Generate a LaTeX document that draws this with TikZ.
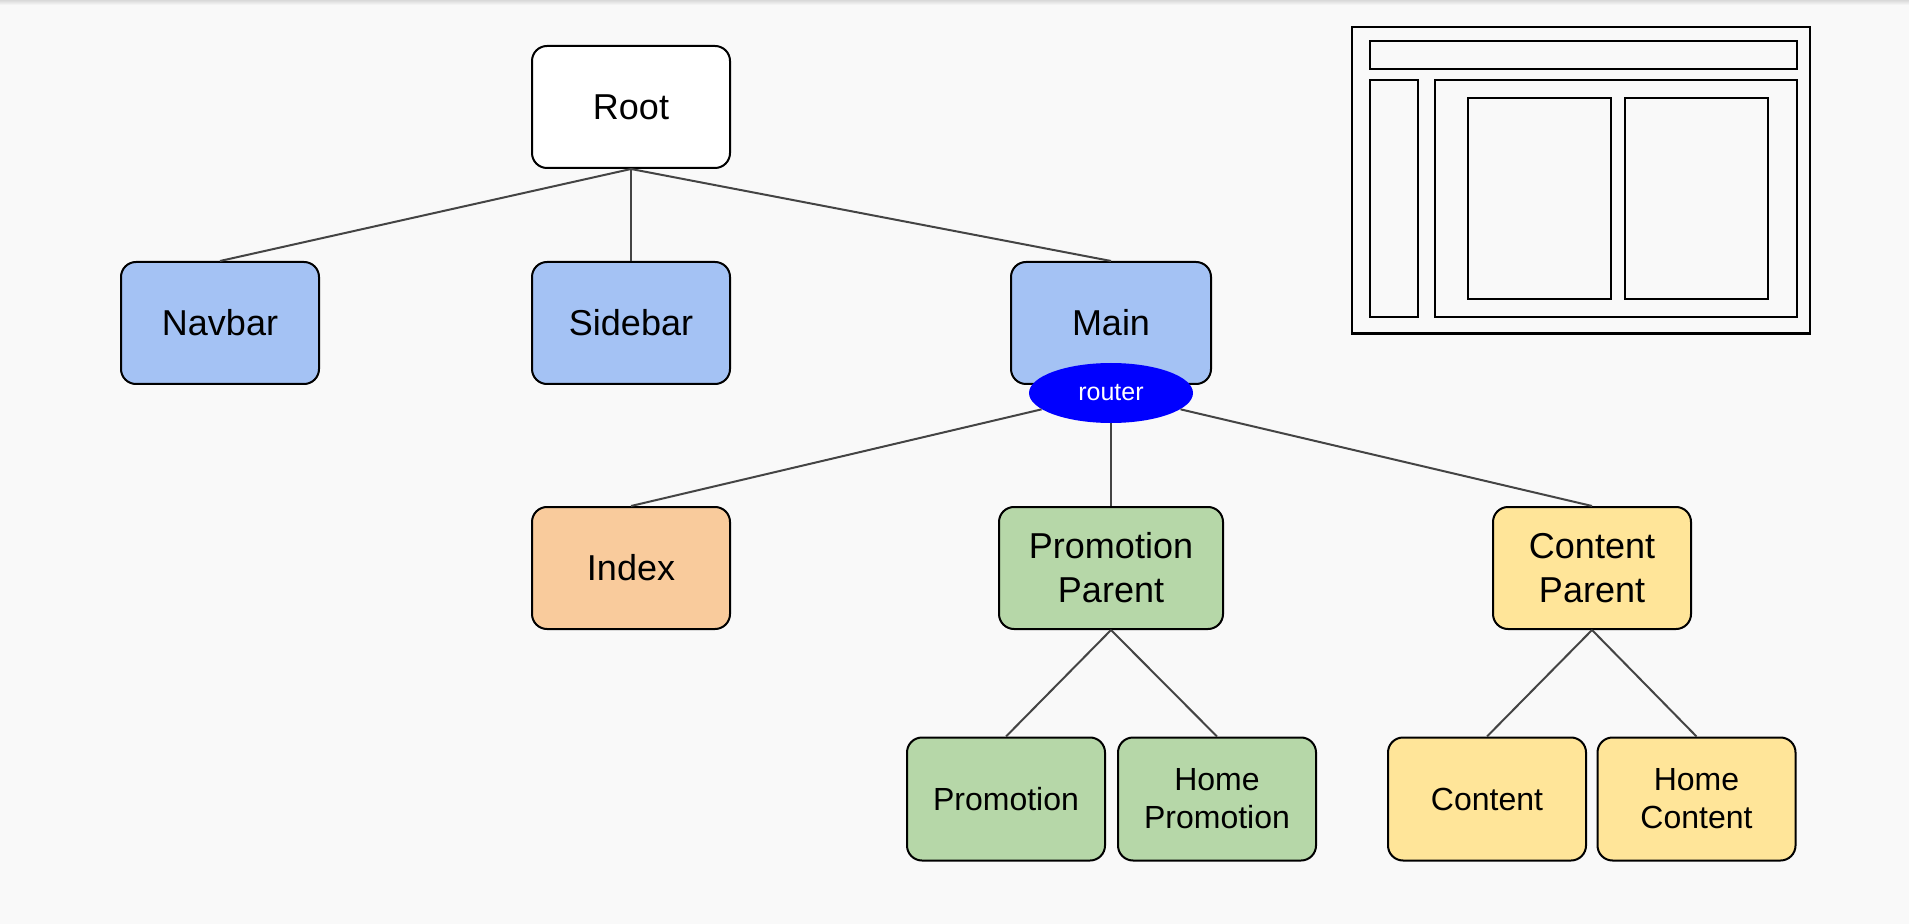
\documentclass[tikz,border=0pt]{standalone}
\usepackage{fontspec}
\setmainfont{Liberation Sans}
\usetikzlibrary{shapes.geometric}
\definecolor{bg}{HTML}{F9F9F9}
\definecolor{lineg}{HTML}{444444}
\definecolor{cblue}{HTML}{A4C2F4}
\definecolor{corange}{HTML}{F9CB9C}
\definecolor{cgreen}{HTML}{B6D7A8}
\definecolor{cyellow}{HTML}{FFE599}
\definecolor{rblue}{HTML}{0000FF}
\begin{document}
\begin{tikzpicture}[x=0.5pt,y=-0.5pt,
  box/.style={draw=black, line width=1pt, rounded corners=7.5pt, minimum width=99pt,
    minimum height=61pt, inner sep=0pt, align=center, font=\fontsize{18}{22}\selectfont},
  smallbox/.style={box, minimum height=61.5pt, font=\fontsize{16}{19}\selectfont},
  conn/.style={draw=lineg, line width=1pt},
  wire/.style={draw=black, line width=1pt},
  wireouter/.style={draw=black, line width=1.3pt}]
\useasboundingbox (0,0) rectangle (1909,924);
\fill[bg] (0,0) rectangle (1909,924);
\shade[top color=black!15, bottom color=bg] (0,0) rectangle (1909,5);

% top level
\node[box, fill=white] (root) at (631,107) {Root};
\node[box, fill=cblue] (navbar) at (220,323) {Navbar};
\node[box, fill=cblue] (sidebar) at (631,323) {Sidebar};
\node[box, fill=cblue, minimum width=100pt] (main) at (1111,323) {Main};
\node[ellipse, fill=rblue, text=white, minimum width=82pt, minimum height=30pt,
  inner sep=0pt, font=\fontsize{12.5}{15}\selectfont] (router) at (1111,393) {router};

% second level
\node[box, fill=corange] (index) at (631,568) {Index};
\node[box, fill=cgreen, minimum width=112pt] (pparent) at (1111,568) {Promotion\\Parent};
\node[box, fill=cyellow] (cparent) at (1592,568) {Content\\Parent};

% third level
\node[smallbox, fill=cgreen] (promo) at (1006,799) {Promotion};
\node[smallbox, fill=cgreen] (hpromo) at (1217,799) {Home\\Promotion};
\node[smallbox, fill=cyellow] (content) at (1487,799) {Content};
\node[smallbox, fill=cyellow] (hcontent) at (1696.5,799) {Home\\Content};

% connectors
\draw[conn] (root.south) -- (navbar.north);
\draw[conn] (root.south) -- (sidebar.north);
\draw[conn] (root.south) -- (main.north);
\draw[conn] (router) -- (index.north);
\draw[conn] (router.south) -- (pparent.north);
\draw[conn] (router) -- (cparent.north);
\draw[conn] (pparent.south) -- (promo.north);
\draw[conn] (pparent.south) -- (hpromo.north);
\draw[conn] (cparent.south) -- (content.north);
\draw[conn] (cparent.south) -- (hcontent.north);

% wireframe
\draw[wireouter] (1352,27) rectangle (1810,333.5);
\draw[wire] (1370,41) rectangle (1796.5,69.5);
\draw[wire] (1370,80) rectangle (1418,317.5);
\draw[wire] (1435,80) rectangle (1796.5,317.5);
\draw[wire] (1468,98.5) rectangle (1611,299);
\draw[wire] (1625,98.5) rectangle (1768,299);
\end{tikzpicture}
\end{document}
